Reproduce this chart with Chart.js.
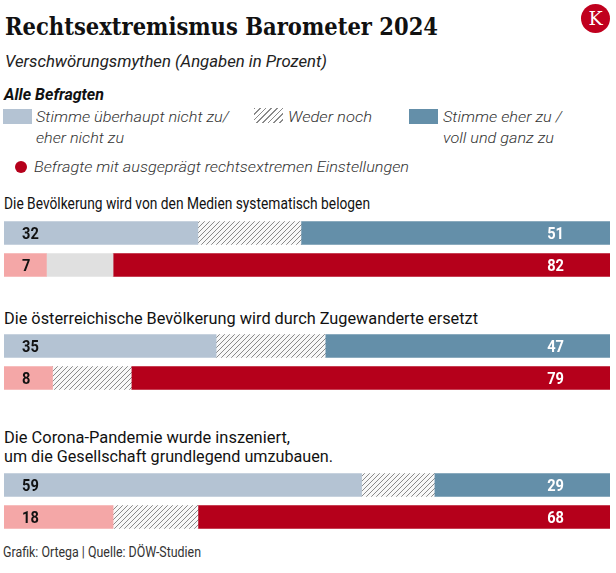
<!DOCTYPE html>
<html lang="de">
<head>
<meta charset="utf-8">
<script src="https://cdn.jsdelivr.net/npm/chart.js@4"></script>
<style>
  body { margin: 0; background: #fff; }
  #page { position: relative; width: 616px; height: 573px; overflow: hidden; }
  .t { position: absolute; white-space: nowrap; line-height: 1; font-family: Roboto, sans-serif; transform-origin: 0 0; }
  .sw { position: absolute; width: 29px; height: 15px; }
  .bars { position: absolute; left: 4px; width: 606px; height: 64px; }
</style>
</head>
<body>
<div id="page">
  <div class="t fit" data-w="433" style="left:5px;top:12px;font:700 25px 'DejaVu Serif';color:#111">Rechtsextremismus Barometer 2024</div>
  <div style="position:absolute;left:581px;top:4px;width:29px;height:29px;border-radius:50%;background:#c0001e;color:#fff;font:400 19px 'DejaVu Serif';text-align:center;line-height:29px">K</div>

  <div class="t fit" data-w="322" style="left:5px;top:54px;font-size:16px;font-style:italic;color:#222">Verschwörungsmythen (Angaben in Prozent)</div>
  <div class="t fit" data-w="100" style="left:4px;top:86px;font-size:17px;font-style:italic;font-weight:700;color:#111">Alle Befragten</div>

  <div class="sw" style="left:3px;top:109px;background:#b4c3d3"></div>
  <div class="t fit" data-w="193" style="left:36px;top:110px;font-size:15.5px;font-style:italic;font-weight:300;color:#333">Stimme überhaupt nicht zu/</div>
  <div class="t fit" data-w="88" style="left:36px;top:131px;font-size:15.5px;font-style:italic;font-weight:300;color:#333">eher nicht zu</div>
  <div class="sw" style="left:254px;top:108px;background:repeating-linear-gradient(135deg,#8a8a8a 0 1px,transparent 1px 4px)"></div>
  <div class="t fit" data-w="84" style="left:288px;top:110px;font-size:15.5px;font-style:italic;font-weight:300;color:#333">Weder noch</div>
  <div class="sw" style="left:409px;top:109px;background:#648fa9"></div>
  <div class="t fit" data-w="119" style="left:443px;top:110px;font-size:15.5px;font-style:italic;font-weight:300;color:#333">Stimme eher zu /</div>
  <div class="t fit" data-w="111" style="left:443px;top:131px;font-size:15.5px;font-style:italic;font-weight:300;color:#333">voll und ganz zu</div>
  <div style="position:absolute;left:15px;top:161px;width:12px;height:12px;border-radius:50%;background:#b5001b"></div>
  <div class="t fit" data-w="375" style="left:34px;top:160px;font-size:15.5px;font-style:italic;font-weight:300;color:#333">Befragte mit ausgeprägt rechtsextremen Einstellungen</div>

  <div class="t fit" data-w="366" style="left:4px;top:196px;font-size:16.5px;color:#111">Die Bevölkerung wird von den Medien systematisch belogen</div>
  <div class="bars" style="top:217px"><canvas id="chart0" width="606" height="64"></canvas></div>

  <div class="t fit" data-w="474" style="left:4px;top:311px;font-size:16.5px;color:#111">Die österreichische Bevölkerung wird durch Zugewanderte ersetzt</div>
  <div class="bars" style="top:330px"><canvas id="chart1" width="606" height="64"></canvas></div>

  <div class="t fit" data-w="286" style="left:4px;top:430px;font-size:16.5px;color:#111">Die Corona-Pandemie wurde inszeniert,</div>
  <div class="t fit" data-w="329" style="left:4px;top:449px;font-size:16.5px;color:#111">um die Gesellschaft grundlegend umzubauen.</div>
  <div class="bars" style="top:469px"><canvas id="chart2" width="606" height="64"></canvas></div>

  <div class="t fit" data-w="198" style="left:3px;top:545px;font-size:14px;color:#333">Grafik: Ortega | Quelle: DÖW-Studien</div>
</div>

<script>
// Werte in Prozent, je Aussage: alle Befragten / Befragte mit rechtsextremen Einstellungen
const gruppen = ['Alle Befragten', 'Rechtsextreme Einstellungen'];
const ablehnung = [32, 35, 59];
const weder = [17, 18, 12];
const zustimmung = [51, 47, 29];
const rexAblehnung = [7, 8, 18];
const rexWeder = [11, 13, 14];
const rexZustimmung = [82, 79, 68];

// Schriften stauchen (kein Roboto Condensed vorhanden)
document.querySelectorAll('.fit').forEach(function(el) {
    const w = el.getBoundingClientRect().width;
    el.style.transform = 'scaleX(' + (el.dataset.w / w) + ')';
});

function makeHatch() {
    const s = 5;
    const c = document.createElement('canvas');
    c.width = s; c.height = s;
    const g = c.getContext('2d');
    g.fillStyle = '#f8f8f8';
    g.fillRect(0, 0, s, s);
    g.strokeStyle = '#8a8a8a';
    g.lineWidth = 1;
    g.beginPath();
    g.moveTo(-1, s + 1); g.lineTo(s + 1, -1);
    g.moveTo(-1, 1); g.lineTo(1, -1);
    g.moveTo(s - 1, s + 1); g.lineTo(s + 1, s - 1);
    g.stroke();
    return g.createPattern(c, 'repeat');
}

const valueLabels = {
    id: 'valueLabels',
    afterDatasetsDraw(chart) {
        const ctx = chart.ctx;
        const area = chart.chartArea;
        ctx.save();
        ctx.font = '700 17px Roboto';
        [0, 2].forEach(function(di) {
            const meta = chart.getDatasetMeta(di);
            meta.data.forEach(function(bar, i) {
                const v = chart.data.datasets[di].data[i];
                ctx.save();
                if (di === 0) {
                    ctx.translate(area.left + 18, bar.y + 6);
                    ctx.textAlign = 'left';
                    ctx.fillStyle = '#111';
                } else {
                    ctx.translate(area.right - 46, bar.y + 6);
                    ctx.textAlign = 'right';
                    ctx.fillStyle = '#fff';
                }
                ctx.scale(0.86, 1);
                ctx.fillText(String(v), 0, 0);
                ctx.restore();
            });
        });
        ctx.restore();
    }
};

for (let i = 0; i < 3; i++) {
    const ctx = document.getElementById('chart' + i).getContext('2d');
    const hatch = makeHatch();
    new Chart(ctx, {
        type: 'bar',
        data: {
            labels: gruppen,
            datasets: [{
                label: 'Stimme überhaupt nicht zu / eher nicht zu',
                data: [ablehnung[i], rexAblehnung[i]],
                backgroundColor: ['#b4c3d3', '#f4a7a7']
            }, {
                label: 'Weder noch',
                data: [weder[i], rexWeder[i]],
                // in der ersten Aussage ist der Mittelteil der Rechtsextremen grau statt schraffiert
                backgroundColor: [hatch, i === 0 ? '#e0e0e0' : hatch]
            }, {
                label: 'Stimme eher zu / voll und ganz zu',
                data: [zustimmung[i], rexZustimmung[i]],
                backgroundColor: ['#648fa9', '#b5001b']
            }]
        },
        options: {
            indexAxis: 'y',
            responsive: false,
            animation: false,
            layout: { padding: 0 },
            datasets: { bar: { barThickness: 23, borderWidth: 0 } },
            scales: {
                x: { stacked: true, min: 0, max: 100, display: false },
                y: { stacked: true, display: false }
            },
            plugins: { legend: { display: false }, tooltip: { enabled: false } }
        },
        plugins: [valueLabels]
    });
}
</script>
</body>
</html>
